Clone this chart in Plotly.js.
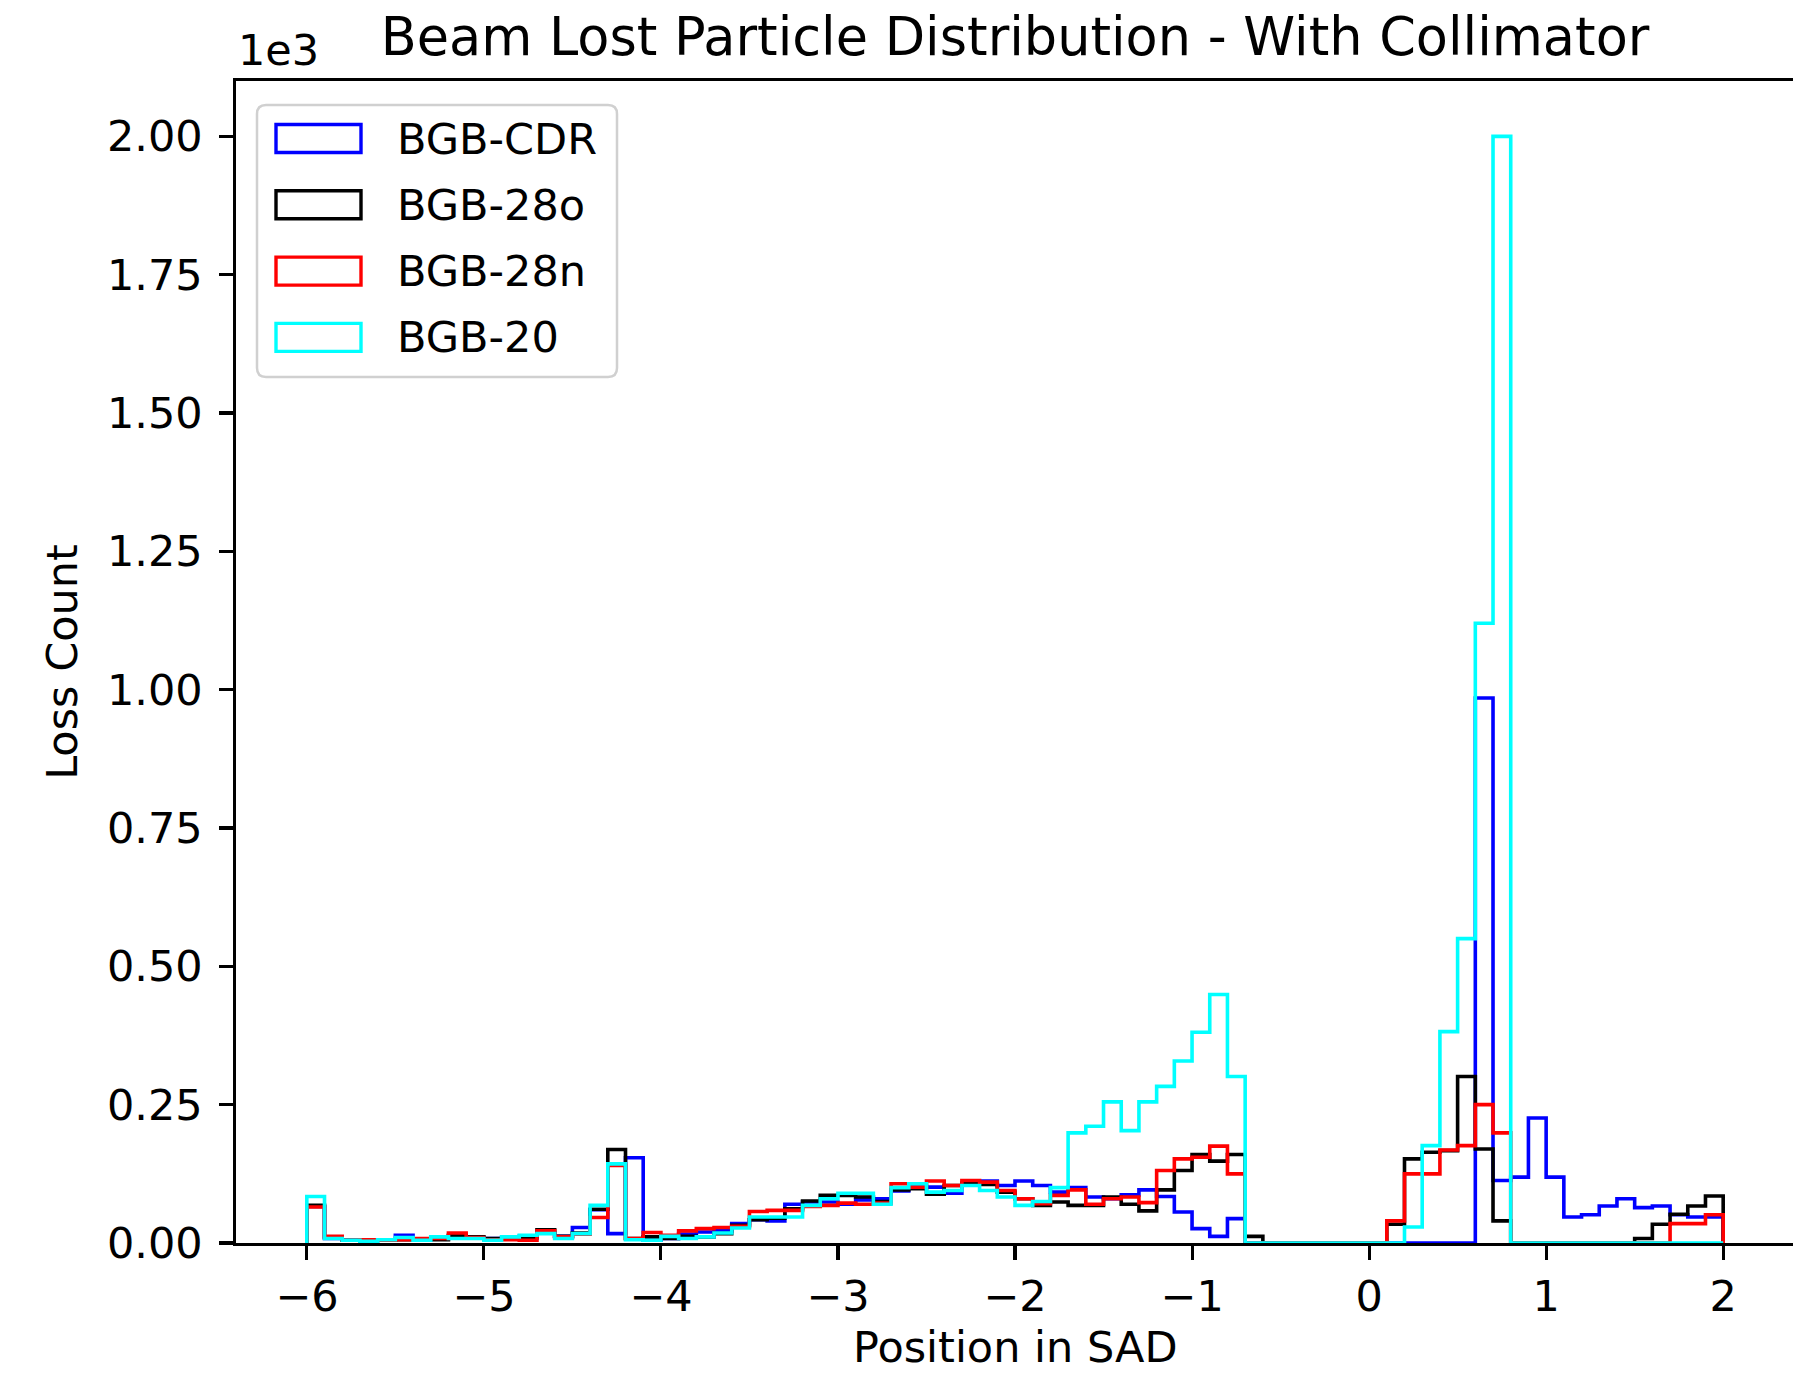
<!DOCTYPE html>
<html><head><meta charset="utf-8">
<script src="https://cdn.plot.ly/plotly-3.0.1.min.js"></script>
<style>html,body{margin:0;padding:0;overflow:hidden;background:#fff}#chart{width:1796px;height:1376px}</style>
</head><body><div id="chart"></div><script>
// histogram bins: 80 bins of width 0.1 from -6 to 2
const binStart = -6.0;
const binWidth = 0.1;
const binCount = 80;

const seriesNames = ['BGB-CDR', 'BGB-28o', 'BGB-28n', 'BGB-20'];
const seriesColors = ['#0000ff', '#000000', '#ff0000', '#00ffff'];

const bgbCDR = [
  66, 8, 5, 4, 5, 14, 6, 8, 12, 10,
  8, 9, 12, 18, 12, 28, 60, 17, 154, 5,
  8, 16, 20, 22, 35, 42, 40, 70, 74, 74,
  70, 78, 80, 94, 102, 101, 90, 108, 112, 104,
  112, 104, 92, 100, 83, 80, 87, 96, 84, 56,
  26, 12, 44, 0, 0, 0, 0, 0, 0, 0,
  0, 0, 0, 0, 0, 0, 985, 113, 119, 226,
  119, 47, 51, 67, 80, 64, 67, 51, 47, 47
];
const bgb28o = [
  68, 10, 5, 5, 5, 6, 6, 6, 14, 11,
  8, 8, 9, 24, 12, 18, 61, 169, 8, 11,
  8, 12, 11, 17, 32, 42, 45, 62, 76, 86,
  86, 83, 75, 96, 98, 88, 104, 108, 106, 92,
  80, 68, 74, 68, 68, 83, 70, 58, 96, 131,
  160, 148, 160, 12, 0, 0, 0, 0, 0, 0,
  0, 34, 152, 164, 167, 301, 170, 40, 0, 0,
  0, 0, 0, 0, 0, 8, 34, 52, 67, 85
];
const bgb28n = [
  65, 12, 5, 6, 5, 6, 8, 8, 18, 10,
  6, 6, 5, 22, 11, 16, 46, 140, 8, 19,
  14, 22, 26, 28, 30, 57, 59, 59, 66, 68,
  72, 70, 72, 107, 101, 112, 104, 113, 110, 95,
  80, 71, 86, 96, 70, 80, 83, 73, 131, 152,
  155, 175, 125, 0, 0, 0, 0, 0, 0, 0,
  0, 40, 125, 125, 168, 176, 250, 199, 0, 0,
  0, 0, 0, 0, 0, 0, 0, 35, 35, 51
];
const bgb20 = [
  84, 8, 5, 3, 6, 10, 5, 11, 8, 8,
  5, 11, 14, 17, 8, 17, 68, 143, 6, 5,
  12, 8, 11, 18, 27, 47, 47, 47, 68, 80,
  90, 90, 70, 100, 107, 92, 95, 104, 95, 83,
  68, 75, 100, 199, 211, 255, 203, 255, 283, 329,
  381, 449, 301, 0, 0, 0, 0, 0, 0, 0,
  0, 0, 29, 176, 382, 550, 1120, 2000, 0, 0,
  0, 0, 0, 0, 0, 0, 0, 0, 0, 0
];
const seriesValues = [bgbCDR, bgb28o, bgb28n, bgb20];

const xTickVals = [-6, -5, -4, -3, -2, -1, 0, 1, 2];
const xTickText = ['\u22126', '\u22125', '\u22124', '\u22123', '\u22122', '\u22121', '0', '1', '2'];
const yTickVals = [0, 250, 500, 750, 1000, 1250, 1500, 1750, 2000];
const yTickText = ['0.00', '0.25', '0.50', '0.75', '1.00', '1.25', '1.50', '1.75', '2.00'];

const titleText = 'Beam Lost Particle Distribution - With Collimator';
const xTitle = 'Position in SAD';
const yTitle = 'Loss Count';

const FONT = 'DejaVu Sans, Verdana, sans-serif';
const FS = 43;
const edges = [];
for (let i = 0; i <= binCount; i++) edges.push(+(binStart + i * binWidth).toFixed(4));

const traces = seriesValues.map((vals, k) => {
  const x = [edges[0]];
  const y = [0];
  for (let i = 0; i < vals.length; i++) { x.push(edges[i]); y.push(vals[i]); }
  x.push(edges[vals.length]); y.push(0);
  return {
    type: 'scatter', mode: 'lines', x: x, y: y, name: seriesNames[k],
    line: {shape: 'hv', color: seriesColors[k], width: 3.6},
    showlegend: false, hoverinfo: 'skip', cliponaxis: true
  };
});

// custom matplotlib-like legend (pixel offsets from top-left of plot area)
const shapes = [];
const annotations = [];
const L = 21, R = 381, T = -24, B = -296, r = 9;
shapes.push({
  type: 'path', xref: 'paper', yref: 'paper', xsizemode: 'pixel', ysizemode: 'pixel', xanchor: 0, yanchor: 1,
  path: `M${L + r},${T} H${R - r} Q${R},${T} ${R},${T - r} V${B + r} Q${R},${B} ${R - r},${B} H${L + r} Q${L},${B} ${L},${B + r} V${T - r} Q${L},${T} ${L + r},${T} Z`,
  line: {color: '#d0d0d0', width: 2.5}, fillcolor: 'rgba(255,255,255,0.8)', layer: 'above'
});
seriesNames.forEach((nm, k) => {
  const cy = -(57.5 + 66.3 * k);
  shapes.push({
    type: 'rect', xref: 'paper', yref: 'paper', xsizemode: 'pixel', ysizemode: 'pixel', xanchor: 0, yanchor: 1,
    x0: 40, x1: 125, y0: cy - 14, y1: cy + 14,
    line: {color: seriesColors[k], width: 3.4}, fillcolor: 'rgba(0,0,0,0)', layer: 'above'
  });
  annotations.push({
    xref: 'paper', yref: 'paper', x: 0, y: 1, xshift: 159, yshift: cy, xanchor: 'left', yanchor: 'middle',
    text: nm, showarrow: false, font: {family: FONT, size: FS, color: '#000'}
  });
});
annotations.push({
  xref: 'paper', yref: 'paper', x: 0, y: 1, xshift: 0, yshift: 31, xanchor: 'left', yanchor: 'middle',
  text: '1e3', showarrow: false, font: {family: FONT, size: FS, color: '#000'}
});
// x-axis title placed precisely below the tick labels
annotations.push({
  xref: 'paper', yref: 'paper', x: 0.5, y: 0, yshift: -104, xanchor: 'center', yanchor: 'middle',
  text: xTitle, showarrow: false, font: {family: FONT, size: FS, color: '#000'}
});

const layout = {
  width: 1796, height: 1376,
  margin: {l: 236, r: 2, t: 81, b: 133, pad: 0},
  paper_bgcolor: '#ffffff', plot_bgcolor: '#ffffff',
  font: {family: FONT, size: FS, color: '#000'},
  title: {text: titleText, font: {family: FONT, size: 52.5, color: '#000'}, xref: 'paper', x: 0.5, xanchor: 'center', yref: 'container', y: 1 - 37 / 1376, yanchor: 'middle'},
  showlegend: false,
  xaxis: {
    range: [-6.4, 2.4], tickvals: xTickVals, ticktext: xTickText,
    ticks: 'outside', ticklen: 13.6, tickwidth: 3.1, tickcolor: '#000',
    ticklabelstandoff: 0,
    showline: true, linecolor: '#000', linewidth: 3.1, mirror: true,
    showgrid: false, zeroline: false,
    tickfont: {family: FONT, size: FS, color: '#000'}
  },
  yaxis: {
    range: [0, 2100], tickvals: yTickVals, ticktext: yTickText,
    ticks: 'outside', ticklen: 13.6, tickwidth: 3.1, tickcolor: '#000',
    ticklabelstandoff: 8,
    showline: true, linecolor: '#000', linewidth: 3.1, mirror: true,
    showgrid: false, zeroline: false,
    tickfont: {family: FONT, size: FS, color: '#000'},
    title: {text: yTitle, font: {family: FONT, size: FS, color: '#000'}, standoff: 16}
  },
  shapes: shapes,
  annotations: annotations
};

Plotly.newPlot('chart', traces, layout, {displayModeBar: false, staticPlot: true});
</script></body></html>
